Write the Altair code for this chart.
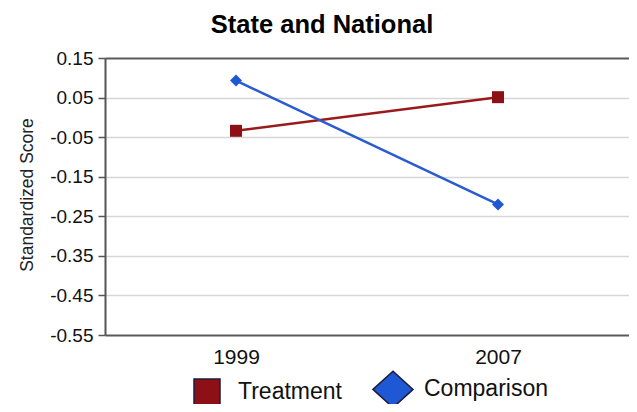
import altair as alt
import pandas as pd

years = ["1999", "2007"]
series = ["Treatment", "Comparison"]
treatment = [-0.034, 0.051]
comparison = [0.093, -0.220]
y_ticks = [0.15, 0.05, -0.05, -0.15, -0.25, -0.35, -0.45, -0.55]

line_colors = ["#9a1a1c", "#2b5bd1"]
mark_colors = ["#8c1016", "#1f58d4"]
diamond_path = "M-1.54,0L0,-1.4L1.54,0L0,1.4Z"

rows = []
for s, vals in zip(series, [treatment, comparison]):
    for yr, v in zip(years, vals):
        rows.append({"Year": yr, "Score": v, "Series": s})
df = pd.DataFrame(rows)

FONT = "Liberation Sans"

x = alt.X(
    "Year:O",
    sort=years,
    scale=alt.Scale(type="point", padding=0.5),
    axis=alt.Axis(
        title=None, labelAngle=0, ticks=False, tickSize=0, labelPadding=11,
        labelFontSize=21, labelFont=FONT, labelColor="#111",
        domain=False, grid=False,
    ),
)
y = alt.Y(
    "Score:Q",
    scale=alt.Scale(domain=[-0.55, 0.15], nice=False, zero=False),
    axis=alt.Axis(
        values=y_ticks,
        labelExpr="replace(format(datum.value, '.2f'), '\u2212', '-')",
        title="Standardized Score",
        titleFont=FONT, titleFontSize=17.5, titleFontWeight="normal", titleColor="#222",
        titleX=-73, titleY=136.5, titleAngle=270, titleBaseline="alphabetic", titleAlign="center",
        labelFont=FONT, labelFontSize=19, labelColor="#111", labelPadding=5,
        tickSize=7, tickColor="#555", tickWidth=1.5,
        domain=True, domainColor="#555", domainWidth=2,
        grid=True,
        gridWidth=alt.condition("datum.value > 0.14 || datum.value < -0.54",
                                alt.value(2), alt.value(1.5)),
        gridColor=alt.condition("datum.value > 0.14 || datum.value < -0.54",
                                alt.value("#5a5a5a"), alt.value("#d6d6d6")),
    ),
)

base = alt.Chart(df)

lines = base.mark_line(strokeWidth=2.5).encode(
    x=x, y=y,
    color=alt.Color("Series:N", scale=alt.Scale(domain=series, range=line_colors), legend=None),
)

points = base.mark_point(filled=True, size=144, opacity=1).encode(
    x=x, y=y,
    color=alt.Color("Series:N", scale=alt.Scale(domain=series, range=mark_colors), legend=None),
    shape=alt.Shape("Series:N", scale=alt.Scale(domain=series, range=["square", "diamond"]), legend=None),
)

leg = alt.Legend(
    orient="none", legendX=88, legendY=317, direction="horizontal", title=None,
    symbolSize=676, symbolStrokeWidth=1.5, labelFontSize=23, labelFont=FONT,
    labelColor="#111", labelOffset=17, columnPadding=27, padding=0,
)

legend_layer = base.transform_filter("false").mark_point(
    filled=True, opacity=1, stroke="#1d1d3a", strokeWidth=1.5
).encode(
    x=x, y=y,
    color=alt.Color("Series:N", scale=alt.Scale(domain=series, range=mark_colors), legend=leg),
    shape=alt.Shape("Series:N", scale=alt.Scale(domain=series, range=["square", diamond_path]), legend=leg),
)

chart = alt.layer(lines, points, legend_layer).resolve_scale(
    color="independent", shape="independent"
).properties(
    width=524, height=277,
    title=alt.TitleParams(
        "State and National", font=FONT, fontSize=25.5, fontWeight="bold", color="#000",
        anchor="middle", frame="group", dx=-45, offset=-9, baseline="alphabetic",
    ),
    autosize=alt.AutoSizeParams(type="none"),
    padding={"left": 97, "top": 50, "right": 0, "bottom": 69},
).configure_view(stroke="#555555", strokeWidth=2).configure(background="white")

chart.save("out.html", embed_options={"renderer": "svg", "actions": False})
